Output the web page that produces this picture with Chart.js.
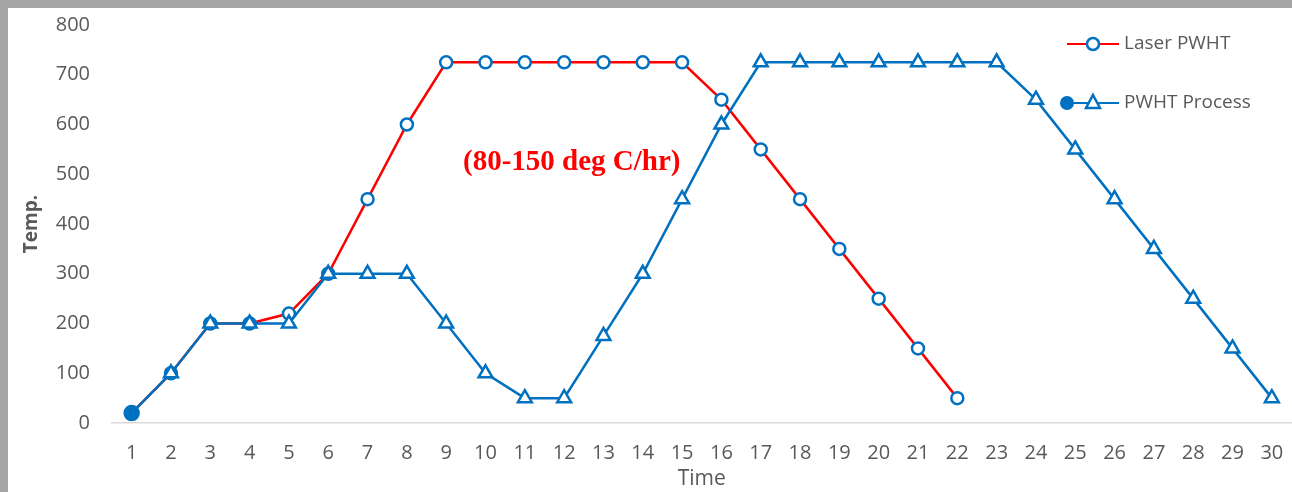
<!DOCTYPE html>
<html lang="en">
<head>
  <meta charset="UTF-8" />
  <title>Laser PWHT vs PWHT Process</title>
  <script src="https://cdn.jsdelivr.net/npm/chart.js"></script>
  <style>
    html, body {
      margin: 0;
      padding: 0;
      background: #fff;
      overflow: hidden;
    }

    .frame {
      position: absolute;
      left: 0;
      top: 0;
      width: 1292px;
      height: 492px;
      background: #a6a6a6;
      overflow: hidden;
    }

    /* sedikit lebih lebar dari layar supaya area plot sampai tepi kanan */
    .chart-box {
      position: absolute;
      left: 8px;
      top: 8px;
      width: 1294px;
      height: 484px;
      background: #fff;
    }
  </style>
</head>
<body>

<div class="frame">
  <div class="chart-box">
    <canvas id="tempChart"></canvas>
  </div>
</div>

<script>
  // data
  const timeLabels = ['1','2','3','4','5','6','7','8','9','10','11','12','13','14','15',
                      '16','17','18','19','20','21','22','23','24','25','26','27','28','29','30'];
  const laserPwht = [20, 100, 200, 200, 220, 300, 450, 600, 725, 725, 725, 725, 725, 725, 725,
                     650, 550, 450, 350, 250, 150, 50];
  const pwhtProcess = [20, 100, 200, 200, 200, 300, 300, 300, 200, 100, 50, 50, 175, 300, 450,
                       600, 725, 725, 725, 725, 725, 725, 725, 650, 550, 450, 350, 250, 150, 50];
  const yTicks = [0, 100, 200, 300, 400, 500, 600, 700, 800];
  const noteText = '(80-150 deg C/hr)';

  const RED = '#ff0000';
  const BLUE = '#0070c0';
  const GREY = '#595959';

  // marker PWHT Process: titik pertama lingkaran penuh, sisanya segitiga
  const procStyle = pwhtProcess.map((v, i) => i === 0 ? 'circle' : 'triangle');
  const procFill = pwhtProcess.map((v, i) => i === 0 ? BLUE : '#fff');
  const procRadius = pwhtProcess.map((v, i) => i === 0 ? 7 : 8);

  // legend + catatan digambar manual
  const extras = {
    id: 'extras',
    afterDraw(chart) {
      const ctx = chart.ctx;
      ctx.save();

      // catatan laju pemanasan
      ctx.fillStyle = RED;
      ctx.font = 'bold 29px "Liberation Serif", serif';
      ctx.textAlign = 'left';
      ctx.textBaseline = 'middle';
      ctx.fillText(noteText, 455, 155);

      // legend
      ctx.font = '19px "Open Sans", sans-serif';
      ctx.textBaseline = 'middle';

      // Laser PWHT
      let y = 36;
      ctx.strokeStyle = RED;
      ctx.lineWidth = 2;
      ctx.beginPath();
      ctx.moveTo(1059, y);
      ctx.lineTo(1111, y);
      ctx.stroke();
      ctx.strokeStyle = BLUE;
      ctx.lineWidth = 2.5;
      ctx.fillStyle = '#fff';
      ctx.beginPath();
      ctx.arc(1085, y, 6, 0, Math.PI * 2);
      ctx.fill();
      ctx.stroke();
      ctx.fillStyle = GREY;
      ctx.fillText('Laser PWHT', 1116, y);

      // PWHT Process
      y = 95;
      ctx.strokeStyle = BLUE;
      ctx.lineWidth = 2;
      ctx.beginPath();
      ctx.moveTo(1059, y);
      ctx.lineTo(1111, y);
      ctx.stroke();
      ctx.fillStyle = BLUE;
      ctx.beginPath();
      ctx.arc(1059, y, 7, 0, Math.PI * 2);
      ctx.fill();
      ctx.fillStyle = '#fff';
      ctx.lineWidth = 2.5;
      ctx.beginPath();
      ctx.moveTo(1085, y - 8);
      ctx.lineTo(1092, y + 5);
      ctx.lineTo(1078, y + 5);
      ctx.closePath();
      ctx.fill();
      ctx.stroke();
      ctx.fillStyle = GREY;
      ctx.fillText('PWHT Process', 1116, y);

      ctx.restore();
    }
  };

  new Chart(document.getElementById('tempChart'), {
    type: 'line',
    data: {
      labels: timeLabels,
      datasets: [
        {
          label: 'Laser PWHT',
          data: laserPwht,
          order: 1,
          borderColor: RED,
          borderWidth: 2.5,
          pointStyle: 'circle',
          pointRadius: 6,
          pointBorderColor: BLUE,
          pointBackgroundColor: '#fff',
          pointBorderWidth: 2.5,
          tension: 0
        },
        {
          label: 'PWHT Process',
          data: pwhtProcess,
          order: 0,
          borderColor: BLUE,
          borderWidth: 2.5,
          pointStyle: procStyle,
          pointRadius: procRadius,
          pointBorderColor: BLUE,
          pointBackgroundColor: procFill,
          pointBorderWidth: 2.5,
          tension: 0
        }
      ]
    },
    options: {
      responsive: true,
      maintainAspectRatio: false,
      animation: false,
      layout: {
        padding: { top: 0, right: 0, bottom: 0, left: 0 }
      },
      plugins: {
        legend: { display: false },
        tooltip: { enabled: false }
      },
      scales: {
        x: {
          offset: true,
          grid: { display: false, drawTicks: false },
          border: { display: true, color: '#d9d9d9', width: 1.5 },
          ticks: {
            color: GREY,
            font: { family: '"Open Sans", sans-serif', size: 20 },
            padding: 18,
            maxRotation: 0,
            autoSkip: false
          },
          title: {
            display: true,
            text: 'Time',
            color: GREY,
            font: { family: '"Open Sans", sans-serif', size: 21 },
            padding: { top: 0, bottom: 0 }
          },
          afterFit(scale) {
            scale.height = 69;
            scale.paddingLeft = 0;
            scale.paddingRight = 0;
          }
        },
        y: {
          min: 0,
          max: 800,
          afterBuildTicks(scale) {
            scale.ticks = yTicks.map(v => ({ value: v }));
          },
          grid: { display: false, drawTicks: false },
          border: { display: false },
          ticks: {
            color: GREY,
            font: { family: '"Open Sans", sans-serif', size: 20 },
            padding: 22
          },
          title: {
            display: true,
            text: 'Temp.',
            color: GREY,
            font: { family: '"Open Sans", sans-serif', size: 19, weight: 'bold' },
            padding: { top: 12, bottom: 0 }
          },
          afterFit(scale) {
            scale.width = 104;
            scale.paddingTop = 17;
            scale.paddingBottom = 0;
          }
        }
      }
    },
    plugins: [extras]
  });
</script>

</body>
</html>
